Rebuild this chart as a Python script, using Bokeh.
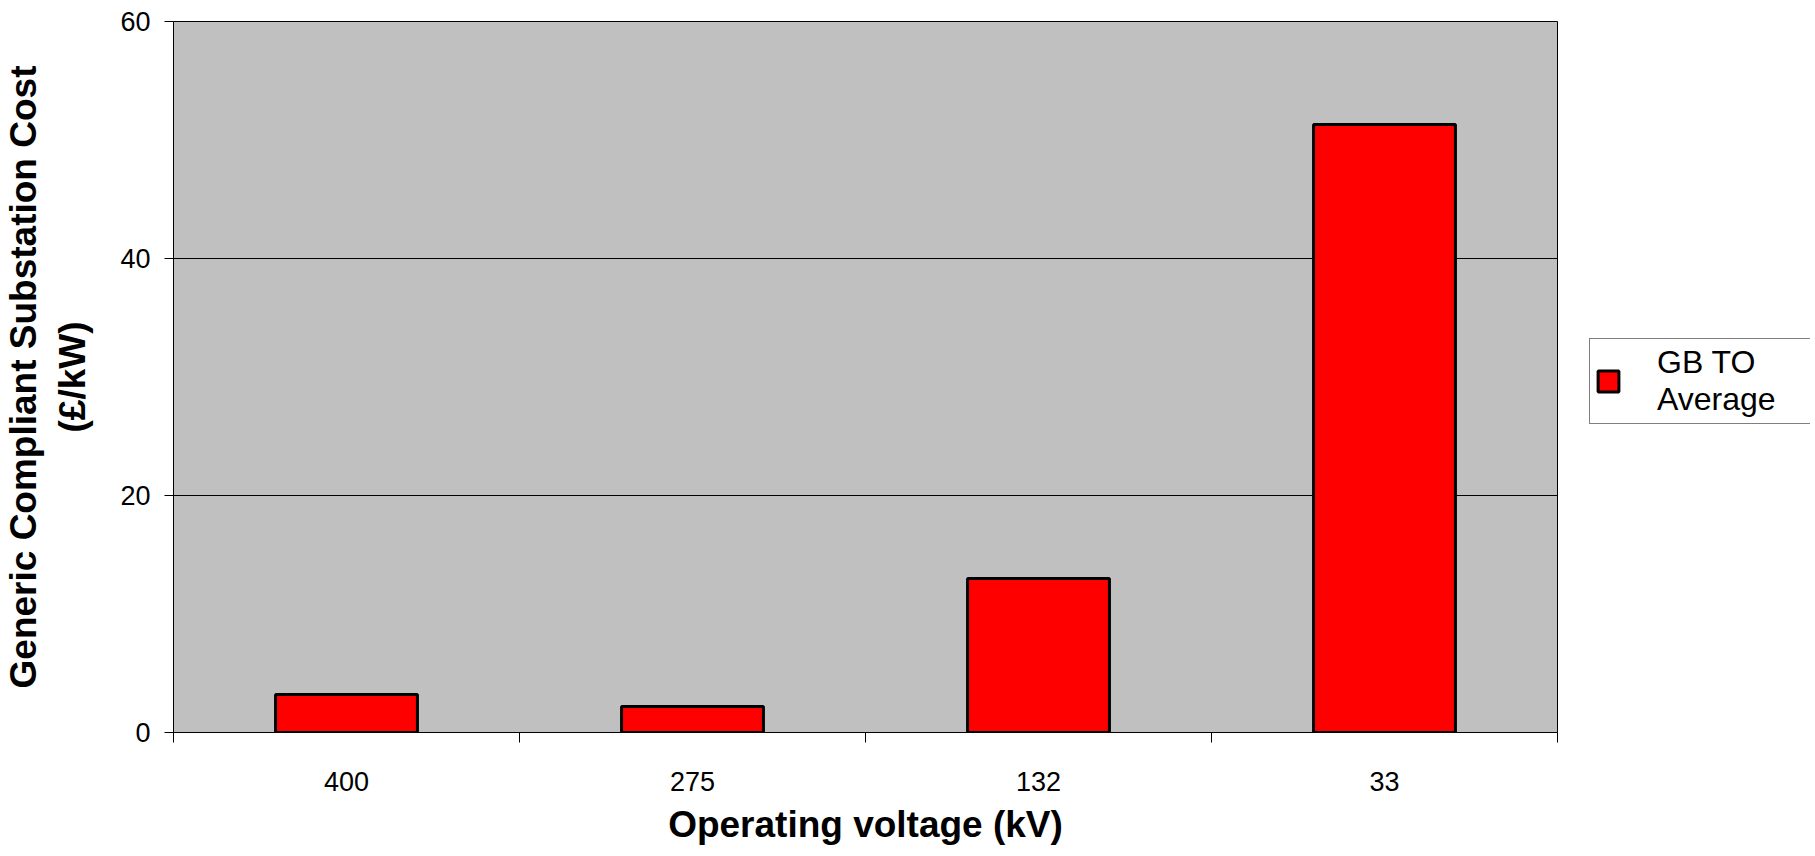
from bokeh.plotting import figure
from bokeh.models import Range1d, FixedTicker, Legend, LegendItem, ColumnDataSource
from bokeh.layouts import row
from bokeh.embed import file_html
from bokeh.resources import INLINE
import numpy as np

# ---- data ----
voltages = ["400", "275", "132", "33"]
costs = [3.2, 2.2, 13.0, 51.3]
y_ticks = [0, 20, 40, 60]
series_name = "GB TO\nAverage"

n = len(voltages)
centers = list(np.arange(n) + 0.5)
bounds = list(np.arange(n + 1).astype(float))

src = ColumnDataSource(dict(x=centers, top=costs, label=voltages))

bar_style = dict(fill_color="#FF0000", line_color="black", line_width=3)

H = 847
p = figure(width=1572, height=H, output_backend="svg", toolbar_location=None,
           x_range=Range1d(0, n), y_range=Range1d(0, 60),
           min_border_left=165, min_border_top=21, min_border_right=15,
           min_border_bottom=115)

p.background_fill_color = "#C0C0C0"
p.border_fill_color = "white"
p.outline_line_color = "black"
p.outline_line_width = 1

r = p.vbar(x="x", top="top", width=0.41, source=src, **bar_style)

# x axis
xa = p.xaxis[0]
xa.ticker = FixedTicker(ticks=centers, minor_ticks=bounds)
xa.major_label_overrides = {c: v for c, v in zip(centers, voltages)}
xa.major_tick_out = 0
xa.major_tick_in = 0
xa.minor_tick_out = 10
xa.minor_tick_in = 0
xa.minor_tick_line_color = "black"
xa.axis_line_color = "black"
xa.major_label_text_font = "Liberation Sans"
xa.major_label_text_font_size = "27px"
xa.major_label_text_color = "black"
xa.major_label_standoff = 29
xa.axis_label = "Operating voltage (kV)"
xa.axis_label_text_font = "Liberation Sans"
xa.axis_label_text_font_style = "bold"
xa.axis_label_text_font_size = "37px"
xa.axis_label_text_color = "black"
xa.axis_label_standoff = 10

# y axis
ya = p.yaxis[0]
ya.ticker = FixedTicker(ticks=y_ticks, minor_ticks=[])
ya.major_tick_out = 9
ya.major_tick_in = 0
ya.axis_line_color = "black"
ya.major_label_text_font = "Liberation Sans"
ya.major_label_text_font_size = "27px"
ya.major_label_text_color = "black"
ya.major_label_standoff = 14
ya.axis_label = "Generic Compliant Substation Cost\n(£/kW)"
ya.axis_label_text_font = "Liberation Sans"
ya.axis_label_text_font_style = "bold"
ya.axis_label_text_font_size = "37px"
ya.axis_label_text_color = "black"
ya.axis_label_standoff = 24

p.xgrid.grid_line_color = None
p.ygrid.grid_line_color = "black"
p.ygrid.grid_line_width = 1

# legend panel (separate figure to the right of the chart)
p2 = figure(width=238, height=H, output_backend="svg", toolbar_location=None,
            x_axis_location=None, y_axis_location=None,
            x_range=Range1d(100, 101), y_range=Range1d(100, 101),
            min_border=0)
p2.outline_line_color = None
p2.grid.visible = False
p2.background_fill_color = "white"
r2 = p2.vbar(x="x", top="top", width=0.41, source=src, **bar_style)
r2.visible = False

legend = Legend(items=[LegendItem(label=series_name, renderers=[r2])],
                location=(17, 308), border_line_color="black", border_line_width=1,
                background_fill_color="white", background_fill_alpha=1,
                label_text_font="Liberation Sans", label_text_font_size="32px",
                label_text_color="black", glyph_width=26, glyph_height=26,
                padding=5, label_standoff=36, label_width=148, margin=0,
                inactive_fill_alpha=0)
p2.add_layout(legend, "center")

open("out.html", "w").write(file_html(row(p, p2), INLINE))
